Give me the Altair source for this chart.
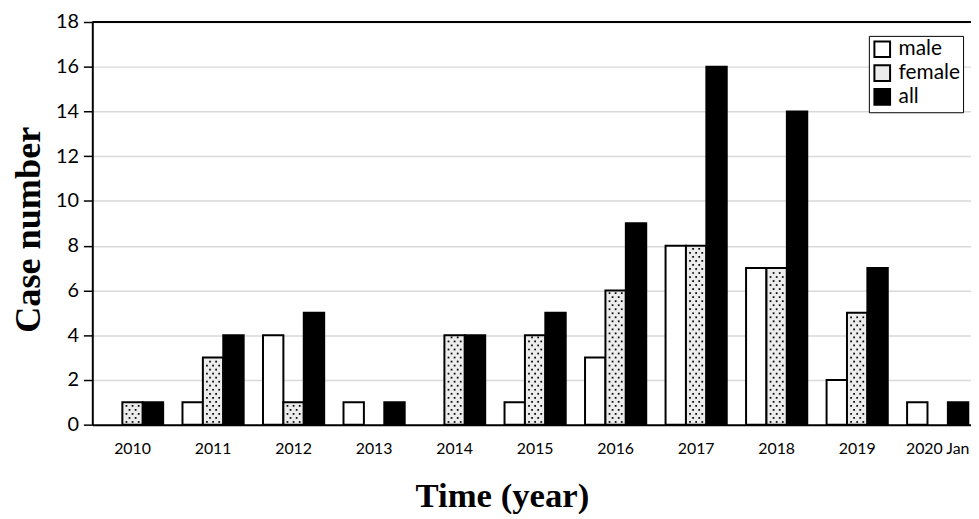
import altair as alt
import pandas as pd

years = ["2010", "2011", "2012", "2013", "2014", "2015", "2016", "2017", "2018", "2019", "2020 Jan"]
male = [0, 1, 4, 1, 0, 1, 3, 8, 7, 2, 1]
female = [1, 3, 1, 0, 4, 4, 6, 8, 7, 5, 0]
total = [1, 4, 5, 1, 4, 5, 9, 16, 14, 7, 1]
groups = ["male", "female", "all"]

rows = []
for i, y in enumerate(years):
    rows.append({"year": y, "group": "male", "value": male[i]})
    rows.append({"year": y, "group": "female", "value": female[i]})
    rows.append({"year": y, "group": "all", "value": total[i]})
df = pd.DataFrame(rows)

# dotted fill texture for the female bars (derived from the female values)
slots = [f"s{k}" for k in range(21)]
dots = []
step = 0.18
for i, y in enumerate(years):
    v = female[i]
    k = 0
    yy = 0.12
    while yy < v - 0.07:
        cols = [8, 10, 12] if k % 2 == 0 else [9, 11]
        for c in cols:
            dots.append({"year": y, "slot": f"s{c}", "v": yy})
        k += 1
        yy += step
dots_df = pd.DataFrame(dots)

xscale = alt.Scale(domain=years, range=[0, 893], paddingInner=0.24, paddingOuter=0.12)
yscale = alt.Scale(domain=[0, 18], nice=False)

bars = alt.Chart(df).mark_bar(stroke="black", strokeWidth=2).encode(
    x=alt.X("year:N", scale=xscale, sort=years,
            axis=alt.Axis(title="Time (year)", labelAngle=0, ticks=False,
                          domainColor="black", domainWidth=2,
                          labelFont="Lato", labelFontSize=16, labelColor="black",
                          labelPadding=16,
                          titleFont="Liberation Serif", titleFontSize=35,
                          titleFontWeight="bold", titleColor="black",
                          titleX=413, titleY=83, titleBaseline="alphabetic",
                          titleAlign="center")),
    xOffset=alt.XOffset("group:N", sort=groups,
                        scale=alt.Scale(domain=groups, paddingInner=0, paddingOuter=0)),
    y=alt.Y("value:Q", scale=yscale,
            axis=alt.Axis(title="Case number", values=list(range(0, 19, 2)),
                          domainColor="black", domainWidth=2,
                          tickColor="black", tickSize=9, tickWidth=1.5,
                          labelFont="Lato", labelFontSize=20, labelColor="black",
                          labelPadding=5,
                          gridColor="#d9d9d9", gridWidth=1.5,
                          titleFont="Liberation Serif", titleFontSize=36.5,
                          titleFontWeight="bold", titleColor="black",
                          titleAngle=-90, titleX=-64, titleY=209,
                          titleBaseline="middle", titleAlign="center")),
    color=alt.Color("group:N", sort=groups,
                    scale=alt.Scale(domain=groups, range=["white", "#ececec", "black"]),
                    legend=alt.Legend(title=None, orient="none", legendX=783, legendY=14,
                                      symbolType="square", symbolSize=250,
                                      symbolStrokeColor="black", symbolStrokeWidth=2,
                                      labelFont="Lato", labelFontSize=21, labelColor="black",
                                      labelOffset=6, rowPadding=-1, padding=3,
                                      strokeColor="black", fillColor="white")),
).transform_filter(alt.datum.value > 0)

dot_layer = alt.Chart(dots_df).mark_square(size=3, color="black", opacity=1).encode(
    x=alt.X("year:N", scale=xscale, sort=years),
    xOffset=alt.XOffset("slot:N", sort=slots,
                        scale=alt.Scale(domain=slots, paddingInner=0, paddingOuter=0)),
    y=alt.Y("v:Q", scale=yscale),
)

top = alt.Chart(pd.DataFrame({"top": [18]})).mark_rule(color="black", strokeWidth=2).encode(
    y=alt.Y("top:Q", scale=yscale)
)

chart = alt.layer(bars, dot_layer, top).resolve_scale(xOffset="independent").properties(
    width=886, height=406,
    autosize=alt.AutoSizeParams(type="none"),
    padding={"left": 85, "top": 12, "right": 0, "bottom": 92},
    background="white",
).configure_view(stroke=None)

chart.save("out.html", embed_options={"renderer": "svg", "actions": False})
